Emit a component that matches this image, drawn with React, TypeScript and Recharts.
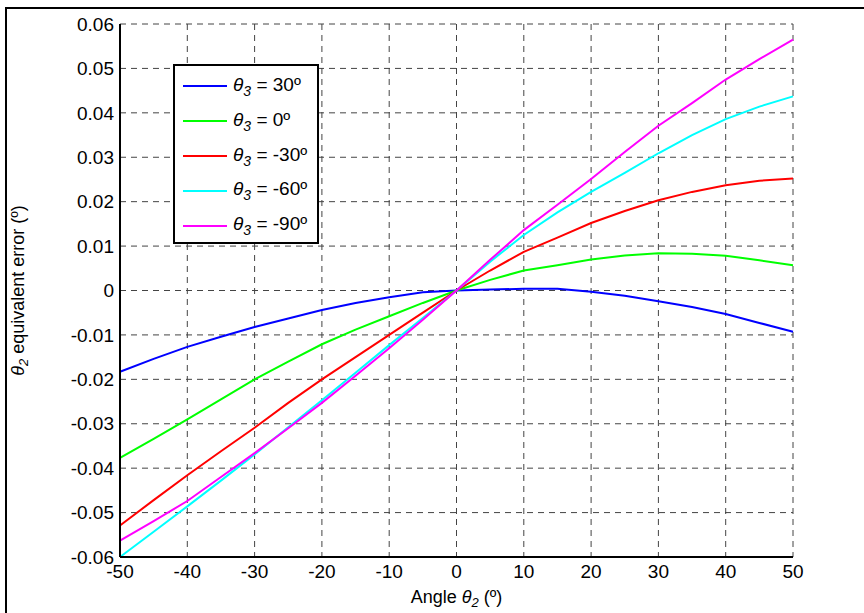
import { LineChart, Line, XAxis, YAxis, CartesianGrid, Label } from "recharts";

const angles = [-50, -45, -40, -35, -30, -25, -20, -15, -10, -5, 0, 5, 10, 15, 20, 25, 30, 35, 40, 45, 50];

const theta30 = [-0.0183, -0.0154, -0.0127, -0.0104, -0.0082, -0.0063, -0.0044, -0.0028, -0.0015, -0.0004, 0, 0.0002, 0.0004, 0.0004, -0.0003, -0.0012, -0.0024, -0.0037, -0.0053, -0.0073, -0.0093];
const theta0 = [-0.0377, -0.0334, -0.029, -0.0245, -0.02, -0.016, -0.0121, -0.0088, -0.0058, -0.0028, 0, 0.0024, 0.0045, 0.0057, 0.007, 0.0079, 0.0084, 0.0083, 0.0078, 0.0068, 0.0057];
const thetaM30 = [-0.0529, -0.0472, -0.0416, -0.0362, -0.0309, -0.0253, -0.02, -0.015, -0.01, -0.005, 0, 0.0045, 0.0087, 0.0119, 0.0152, 0.0179, 0.0203, 0.0222, 0.0237, 0.0247, 0.0252];
const thetaM60 = [-0.06, -0.0543, -0.0486, -0.0428, -0.0369, -0.0308, -0.0247, -0.0185, -0.0123, -0.0062, 0, 0.0065, 0.0125, 0.0176, 0.0222, 0.0265, 0.0309, 0.035, 0.0386, 0.0414, 0.0437];
const thetaM90 = [-0.0563, -0.0519, -0.0474, -0.042, -0.0366, -0.031, -0.0253, -0.0192, -0.013, -0.0066, 0, 0.0069, 0.0136, 0.0193, 0.0251, 0.0312, 0.0371, 0.0422, 0.0475, 0.0521, 0.0565];

const xTicks = [-50, -40, -30, -20, -10, 0, 10, 20, 30, 40, 50];
const yTicks = [-0.06, -0.05, -0.04, -0.03, -0.02, -0.01, 0, 0.01, 0.02, 0.03, 0.04, 0.05, 0.06];

const series = [
  { key: "s30", label: "30º", color: "#0000ff", values: theta30 },
  { key: "s0", label: "0º", color: "#00ff00", values: theta0 },
  { key: "sm30", label: "-30º", color: "#ff0000", values: thetaM30 },
  { key: "sm60", label: "-60º", color: "#00ffff", values: thetaM60 },
  { key: "sm90", label: "-90º", color: "#ff00ff", values: thetaM90 },
];

const data = angles.map((a, i) => {
  const row: Record<string, number> = { angle: a };
  series.forEach((s) => (row[s.key] = s.values[i]));
  return row;
});

const font = "'Liberation Sans', Arial, sans-serif";

function LegendBox() {
  return (
    <div
      style={{
        position: "absolute",
        left: 173,
        top: 64,
        width: 146,
        height: 180,
        border: "2px solid #000",
        background: "#fff",
        fontFamily: font,
        fontSize: 19,
        color: "#000",
        boxSizing: "border-box",
        paddingTop: 3,
      }}
    >
      {series.map((s) => (
        <div key={s.key} style={{ display: "flex", alignItems: "center", height: 34.8, whiteSpace: "nowrap" }}>
          <div style={{ width: 44, height: 2, background: s.color, marginLeft: 8, marginRight: 6 }} />
          <span>
            <i>θ</i>
            <sub style={{ fontStyle: "italic", fontSize: 14 }}>3</sub> = {s.label}
          </span>
        </div>
      ))}
    </div>
  );
}

export default function App() {
  return (
    <div style={{ position: "absolute", left: 0, top: 0, width: 864, height: 613, background: "#fff", overflow: "hidden" }}>
      <div
        style={{
          position: "absolute",
          left: 5,
          top: 7,
          width: 870,
          height: 620,
          borderTop: "2px solid #000",
          borderLeft: "2px solid #000",
        }}
      />
      <LineChart width={864} height={613} data={data} margin={{ top: 24, right: 71, bottom: 26, left: 50 }}>
        <CartesianGrid stroke="#444" strokeDasharray="6 5" strokeWidth={1} />
        <XAxis
          dataKey="angle"
          type="number"
          domain={[-50, 50]}
          ticks={xTicks}
          height={30}
          tickSize={0}
          tickMargin={8}
          axisLine={{ stroke: "#000", strokeWidth: 2 }}
          tick={{ fill: "#000", fontSize: 19, fontFamily: font }}
        >
          <Label
            content={({ viewBox }: any) => (
              <text
                x={viewBox.x + viewBox.width / 2}
                y={603}
                textAnchor="middle"
                fontSize={18}
                fontFamily={font}
                fill="#000"
              >
                Angle <tspan fontStyle="italic">θ</tspan>
                <tspan fontStyle="italic" fontSize={13} dy={4}>2</tspan>
                <tspan dy={-4}> (º)</tspan>
              </text>
            )}
          />
        </XAxis>
        <YAxis
          type="number"
          domain={[-0.06, 0.06]}
          ticks={yTicks}
          width={70}
          tickSize={0}
          tickMargin={6}
          axisLine={{ stroke: "#000", strokeWidth: 2 }}
          tick={{ fill: "#000", fontSize: 19, fontFamily: font }}
          tickFormatter={(v: number) => (v === 0 ? "0" : v.toFixed(2))}
        >
          <Label
            content={({ viewBox }: any) => {
              const cy = viewBox.y + viewBox.height / 2;
              return (
                <text
                  x={24}
                  y={cy}
                  transform={`rotate(-90 24 ${cy})`}
                  textAnchor="middle"
                  fontSize={18}
                  fontFamily={font}
                  fill="#000"
                >
                  <tspan fontStyle="italic">θ</tspan>
                  <tspan fontStyle="italic" fontSize={13} dy={4}>2</tspan>
                  <tspan dy={-4}> equivalent error (º)</tspan>
                </text>
              );
            }}
          />
        </YAxis>
        {series.map((s) => (
          <Line
            key={s.key}
            dataKey={s.key}
            stroke={s.color}
            strokeWidth={2}
            dot={false}
            type="linear"
            isAnimationActive={false}
          />
        ))}
      </LineChart>
      <LegendBox />
    </div>
  );
}
